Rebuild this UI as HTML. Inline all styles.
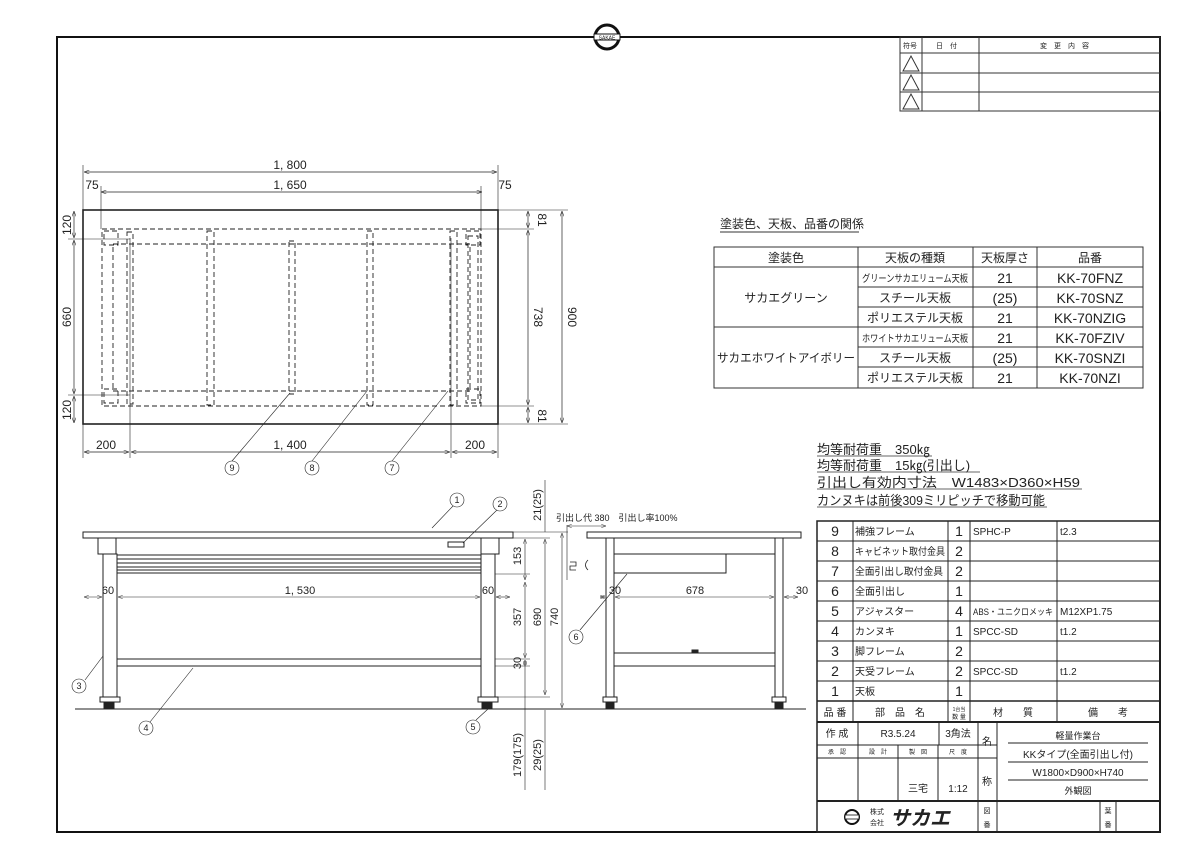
<!DOCTYPE html>
<html><head><meta charset="utf-8"><style>
html,body{margin:0;padding:0;background:#fff;width:1200px;height:849px;overflow:hidden}
svg{display:block}
text{font-family:"Liberation Sans","Noto Sans CJK JP",sans-serif;fill:#222}
</style></head><body>
<svg width="1200" height="849" viewBox="0 0 1200 849" xmlns="http://www.w3.org/2000/svg">
<defs><marker id="a" markerWidth="8" markerHeight="6" refX="8" refY="3" orient="auto-start-reverse"><path d="M0,0 L8,3 L0,6" fill="none" stroke="#333" stroke-width="0.8"/></marker></defs>
<rect x="57" y="37" width="1103" height="795" fill="none" stroke="#111" stroke-width="2"/>
<circle cx="607" cy="37" r="12" fill="#fff" stroke="#111" stroke-width="3"/>
<rect x="594" y="34" width="26" height="6" fill="#fff" stroke="#111" stroke-width="1"/>
<text x="607" y="39.5" font-size="5" text-anchor="middle">SAKAE</text>

<g stroke="#333" stroke-width="1" fill="none">
<rect x="900" y="37" width="260" height="74"/>
<line x1="900" y1="53" x2="1160" y2="53"/><line x1="900" y1="73" x2="1160" y2="73"/><line x1="900" y1="92" x2="1160" y2="92"/>
<line x1="922" y1="37" x2="922" y2="111"/><line x1="979" y1="37" x2="979" y2="111"/>
<path d="M903,71 L911,56 L919,71 Z M903,90 L911,75 L919,90 Z M903,109 L911,94 L919,109 Z"/>
</g>
<g font-size="7"><text x="903" y="48">符号</text><text x="936" y="48">日　付</text><text x="1040" y="48">変　更　内　容</text></g>

<g stroke="#222" fill="none">
<rect x="83" y="210" width="415" height="214" stroke-width="1.6"/>
<g stroke-dasharray="5,3" stroke-width="0.9">
<rect x="102" y="229" width="379" height="177"/>
<rect x="113" y="244" width="357" height="147"/>
<rect x="127" y="232" width="6" height="172"/>
<rect x="207" y="231" width="7" height="174"/>
<rect x="289" y="241" width="6" height="153"/>
<rect x="367" y="231" width="6" height="174"/>
<rect x="450" y="231" width="7" height="174"/>
<rect x="468" y="236" width="10" height="164"/>
<rect x="104" y="231" width="14" height="14"/><rect x="104" y="389" width="14" height="14"/>
<rect x="466" y="231" width="14" height="14"/><rect x="466" y="389" width="14" height="14"/>
</g>
<g stroke-width="0.7" marker-start="url(#a)" marker-end="url(#a)">
<line x1="84" y1="172" x2="497" y2="172"/>
<line x1="101" y1="192" x2="482" y2="192"/>
<line x1="84" y1="452" x2="129" y2="452"/>
<line x1="131" y1="452" x2="450" y2="452"/>
<line x1="452" y1="452" x2="497" y2="452"/>
<line x1="74" y1="211" x2="74" y2="238"/>
<line x1="74" y1="240" x2="74" y2="394"/>
<line x1="74" y1="396" x2="74" y2="423"/>
<line x1="528" y1="211" x2="528" y2="228"/>
<line x1="528" y1="230" x2="528" y2="405"/>
<line x1="528" y1="407" x2="528" y2="423"/>
<line x1="562" y1="211" x2="562" y2="423"/>
</g>
<g stroke-width="0.6">
<line x1="83" y1="165" x2="83" y2="210"/><line x1="498" y1="165" x2="498" y2="210"/>
<line x1="101" y1="186" x2="101" y2="229"/><line x1="481" y1="186" x2="481" y2="229"/>
<line x1="83" y1="424" x2="83" y2="458"/><line x1="498" y1="424" x2="498" y2="458"/>
<line x1="130" y1="238" x2="130" y2="458"/><line x1="451" y1="238" x2="451" y2="458"/>
<line x1="68" y1="239" x2="130" y2="239"/><line x1="68" y1="395" x2="130" y2="395"/>
<line x1="481" y1="229" x2="534" y2="229"/><line x1="481" y1="406" x2="534" y2="406"/>
<line x1="498" y1="210" x2="568" y2="210"/><line x1="498" y1="424" x2="568" y2="424"/>
<line x1="232" y1="461" x2="290" y2="393"/><line x1="312" y1="461" x2="367" y2="391"/><line x1="392" y1="461" x2="448" y2="391"/>
<circle cx="232" cy="468" r="7"/><circle cx="312" cy="468" r="7"/><circle cx="392" cy="468" r="7"/>
</g>
</g>
<g font-size="12">
<text x="290" y="169" text-anchor="middle">1, 800</text>
<text x="290" y="189" text-anchor="middle">1, 650</text>
<text x="92" y="189" text-anchor="middle">75</text><text x="505" y="189" text-anchor="middle">75</text>
<text x="106" y="449" text-anchor="middle">200</text><text x="290" y="449" text-anchor="middle">1, 400</text><text x="475" y="449" text-anchor="middle">200</text>
<text transform="translate(71,225) rotate(-90)" text-anchor="middle">120</text>
<text transform="translate(71,317) rotate(-90)" text-anchor="middle">660</text>
<text transform="translate(71,410) rotate(-90)" text-anchor="middle">120</text>
<text transform="translate(538,220) rotate(90)" text-anchor="middle">81</text>
<text transform="translate(534,317) rotate(90)" text-anchor="middle">738</text>
<text transform="translate(538,416) rotate(90)" text-anchor="middle">81</text>
<text transform="translate(568,317) rotate(90)" text-anchor="middle">900</text>
</g>
<g font-size="9" text-anchor="middle"><text x="232" y="471">9</text><text x="312" y="471">8</text><text x="392" y="471">7</text></g>

<g stroke="#222" fill="none" stroke-width="1">
<rect x="83" y="532" width="430" height="6"/>
<rect x="103" y="554" width="14" height="143"/><rect x="481" y="554" width="14" height="143"/>
<rect x="98" y="538" width="18" height="16"/><rect x="481" y="538" width="18" height="16"/>
<rect x="117" y="555" width="364" height="18"/>
<line x1="117" y1="559" x2="481" y2="559"/><line x1="117" y1="563" x2="481" y2="563"/><line x1="117" y1="567" x2="481" y2="567"/><line x1="117" y1="570" x2="481" y2="570"/>
<rect x="448" y="542" width="16" height="5"/>
<rect x="117" y="659" width="364" height="7"/>
<rect x="100" y="697" width="20" height="5"/><rect x="104" y="702" width="10" height="6" fill="#222"/>
<rect x="478" y="697" width="20" height="5"/><rect x="482" y="702" width="10" height="6" fill="#222"/>
<line x1="75" y1="709" x2="806" y2="709"/>
<rect x="587" y="532" width="214" height="6"/>
<rect x="606" y="538" width="8" height="159"/><rect x="775" y="538" width="8" height="159"/>
<line x1="614" y1="554" x2="775" y2="554"/>
<rect x="614" y="554" width="112" height="19"/>
<line x1="614" y1="653" x2="775" y2="653"/><line x1="614" y1="666" x2="775" y2="666"/>
<rect x="603" y="697" width="14" height="5"/><rect x="606" y="702" width="8" height="6" fill="#222"/>
<rect x="772" y="697" width="14" height="5"/><rect x="775" y="702" width="8" height="6" fill="#222"/>
<rect x="692" y="650" width="6" height="3" fill="#222"/>
<path d="M570,562 h6 v4 h-6 v4 h6 M588,560 q-5,5 0,10" stroke-width="0.8"/>
<line x1="567" y1="525" x2="567" y2="580" stroke-width="0.6"/>
</g>
<g stroke="#222" fill="none" stroke-width="0.6">
<g marker-start="url(#a)" marker-end="url(#a)">
<line x1="84" y1="597" x2="102" y2="597"/><line x1="118" y1="597" x2="480" y2="597"/><line x1="496" y1="597" x2="510" y2="597"/>
<line x1="600" y1="597" x2="605" y2="597"/><line x1="615" y1="597" x2="774" y2="597"/><line x1="784" y1="597" x2="798" y2="597"/>
<line x1="525" y1="539" x2="525" y2="580"/><line x1="525" y1="582" x2="525" y2="658"/><line x1="525" y1="660" x2="525" y2="666"/>
<line x1="545" y1="539" x2="545" y2="695"/><line x1="562" y1="533" x2="562" y2="708"/>
<line x1="567" y1="526" x2="606" y2="526"/>
</g>
<line x1="545" y1="480" x2="545" y2="532"/><line x1="545" y1="710" x2="545" y2="790"/>
<line x1="525" y1="666" x2="525" y2="790"/>
<line x1="513" y1="532" x2="568" y2="532"/><line x1="513" y1="538" x2="550" y2="538"/>
<line x1="495" y1="574" x2="530" y2="574"/><line x1="495" y1="659" x2="530" y2="659"/><line x1="495" y1="666" x2="530" y2="666"/><line x1="495" y1="697" x2="550" y2="697"/>
<line x1="432" y1="528" x2="453" y2="506"/><line x1="463" y1="543" x2="497" y2="510"/>
<line x1="85" y1="680" x2="103" y2="656"/><line x1="150" y1="722" x2="193" y2="668"/>
<line x1="476" y1="720" x2="488" y2="709"/><line x1="580" y1="630" x2="627" y2="574"/>
<circle cx="457" cy="500" r="7"/><circle cx="500" cy="504" r="7"/><circle cx="79" cy="686" r="7"/>
<circle cx="146" cy="728" r="7"/><circle cx="473" cy="727" r="7"/><circle cx="576" cy="637" r="7"/>
</g>
<g font-size="9" text-anchor="middle"><text x="457" y="503">1</text><text x="500" y="507">2</text><text x="79" y="689">3</text><text x="146" y="731">4</text><text x="473" y="730">5</text><text x="576" y="640">6</text></g>
<g font-size="11">
<text x="108" y="594" text-anchor="middle">60</text><text x="300" y="594" text-anchor="middle">1, 530</text><text x="488" y="594" text-anchor="middle">60</text>
<text x="615" y="594" text-anchor="middle">30</text><text x="695" y="594" text-anchor="middle">678</text><text x="802" y="594" text-anchor="middle">30</text>
<text x="556" y="521" font-size="9">引出し代 380　引出し率100%</text>
<text transform="translate(521,556) rotate(-90)" text-anchor="middle">153</text>
<text transform="translate(521,617) rotate(-90)" text-anchor="middle">357</text>
<text transform="translate(521,663) rotate(-90)" text-anchor="middle">30</text>
<text transform="translate(541,617) rotate(-90)" text-anchor="middle">690</text>
<text transform="translate(558,617) rotate(-90)" text-anchor="middle">740</text>
<text transform="translate(541,505) rotate(-90)" text-anchor="middle">21(25)</text>
<text transform="translate(521,755) rotate(-90)" text-anchor="middle">179(175)</text>
<text transform="translate(541,755) rotate(-90)" text-anchor="middle">29(25)</text>
</g>

<text x="720" y="228" font-size="12">塗装色、天板、品番の関係</text>
<line x1="720" y1="232" x2="859" y2="232" stroke="#333"/>
<g stroke="#333" fill="none" stroke-width="1">
<rect x="714" y="247" width="429" height="141"/>
<line x1="714" y1="267" x2="1143" y2="267"/><line x1="714" y1="327" x2="1143" y2="327"/>
<line x1="858" y1="287" x2="1143" y2="287"/><line x1="858" y1="307" x2="1143" y2="307"/>
<line x1="858" y1="347" x2="1143" y2="347"/><line x1="858" y1="367" x2="1143" y2="367"/>
<line x1="858" y1="247" x2="858" y2="388"/><line x1="973" y1="247" x2="973" y2="388"/><line x1="1037" y1="247" x2="1037" y2="388"/>
</g>
<g font-size="12" text-anchor="middle">
<text x="786" y="262">塗装色</text><text x="915" y="262">天板の種類</text><text x="1005" y="262">天板厚さ</text><text x="1090" y="262">品番</text>
<text x="786" y="302">サカエグリーン</text><text x="786" y="362" textLength="138" lengthAdjust="spacingAndGlyphs">サカエホワイトアイボリー</text>
<text x="915" y="282" font-size="10" textLength="106" lengthAdjust="spacingAndGlyphs">グリーンサカエリューム天板</text>
<text x="915" y="302">スチール天板</text><text x="915" y="322">ポリエステル天板</text>
<text x="915" y="342" font-size="10" textLength="106" lengthAdjust="spacingAndGlyphs">ホワイトサカエリューム天板</text>
<text x="915" y="362">スチール天板</text><text x="915" y="382">ポリエステル天板</text>
<g font-size="14"><text x="1005" y="283">21</text><text x="1005" y="303">(25)</text><text x="1005" y="323">21</text><text x="1005" y="343">21</text><text x="1005" y="363">(25)</text><text x="1005" y="383">21</text>
<text x="1090" y="283">KK-70FNZ</text><text x="1090" y="303">KK-70SNZ</text><text x="1090" y="323">KK-70NZIG</text><text x="1090" y="343">KK-70FZIV</text><text x="1090" y="363">KK-70SNZI</text><text x="1090" y="383">KK-70NZI</text></g>
</g>
<g font-size="13">
<text x="817" y="454">均等耐荷重　350㎏</text><text x="817" y="470">均等耐荷重　15㎏(引出し)</text>
<text x="817" y="487" textLength="263" lengthAdjust="spacingAndGlyphs">引出し有効内寸法　W1483×D360×H59</text><text x="817" y="505" textLength="228" lengthAdjust="spacingAndGlyphs">カンヌキは前後309ミリピッチで移動可能</text>
</g>
<g stroke="#333" stroke-width="0.8"><line x1="817" y1="456" x2="932" y2="456"/><line x1="817" y1="472" x2="980" y2="472"/><line x1="817" y1="489" x2="1082" y2="489"/><line x1="817" y1="507" x2="1047" y2="507"/></g>

<g stroke="#222" fill="none" stroke-width="1">
<rect x="817" y="521" width="343" height="311" stroke-width="1.5"/>
<line x1="817" y1="541" x2="1160" y2="541"/><line x1="817" y1="561" x2="1160" y2="561"/><line x1="817" y1="581" x2="1160" y2="581"/>
<line x1="817" y1="601" x2="1160" y2="601"/><line x1="817" y1="621" x2="1160" y2="621"/><line x1="817" y1="641" x2="1160" y2="641"/>
<line x1="817" y1="661" x2="1160" y2="661"/><line x1="817" y1="681" x2="1160" y2="681"/><line x1="817" y1="701" x2="1160" y2="701" stroke-width="1.5"/>
<line x1="817" y1="722" x2="1160" y2="722" stroke-width="2"/>
<line x1="853" y1="521" x2="853" y2="722"/><line x1="948" y1="521" x2="948" y2="722"/><line x1="970" y1="521" x2="970" y2="722"/><line x1="1057" y1="521" x2="1057" y2="722"/>
<line x1="817" y1="745" x2="997" y2="745"/><line x1="817" y1="758" x2="997" y2="758"/>
<line x1="858" y1="722" x2="858" y2="745"/><line x1="939" y1="722" x2="939" y2="745"/>
<line x1="858" y1="745" x2="858" y2="800"/><line x1="898" y1="745" x2="898" y2="800"/><line x1="938" y1="745" x2="938" y2="800"/>
<line x1="978" y1="722" x2="978" y2="832"/><line x1="997" y1="722" x2="997" y2="800"/>
<line x1="1008" y1="743" x2="1148" y2="743"/><line x1="1008" y1="762" x2="1148" y2="762"/><line x1="1008" y1="780" x2="1148" y2="780"/>
<line x1="817" y1="801" x2="1160" y2="801" stroke-width="2"/>
<line x1="997" y1="801" x2="997" y2="832"/><line x1="1100" y1="801" x2="1100" y2="832"/><line x1="1116" y1="801" x2="1116" y2="832"/>
</g>
<g font-size="14" text-anchor="middle"><text x="835" y="536">9</text><text x="835" y="556">8</text><text x="835" y="576">7</text><text x="835" y="596">6</text><text x="835" y="616">5</text><text x="835" y="636">4</text><text x="835" y="656">3</text><text x="835" y="676">2</text><text x="835" y="696">1</text>
<text x="959" y="536">1</text><text x="959" y="556">2</text><text x="959" y="576">2</text><text x="959" y="596">1</text><text x="959" y="616">4</text><text x="959" y="636">1</text><text x="959" y="656">2</text><text x="959" y="676">2</text><text x="959" y="696">1</text></g>
<g font-size="10"><text x="855" y="535">補強フレーム</text><text x="855" y="555" textLength="90" lengthAdjust="spacingAndGlyphs">キャビネット取付金具</text><text x="855" y="575" textLength="88" lengthAdjust="spacingAndGlyphs">全面引出し取付金具</text><text x="855" y="595">全面引出し</text><text x="855" y="615">アジャスター</text><text x="855" y="635">カンヌキ</text><text x="855" y="655">脚フレーム</text><text x="855" y="675">天受フレーム</text><text x="855" y="695">天板</text>
<text x="973" y="535">SPHC-P</text><text x="973" y="615" font-size="9" textLength="80" lengthAdjust="spacingAndGlyphs">ABS・ユニクロメッキ</text><text x="973" y="635">SPCC-SD</text><text x="973" y="675">SPCC-SD</text>
<text x="1060" y="535">t2.3</text><text x="1060" y="615">M12XP1.75</text><text x="1060" y="635">t1.2</text><text x="1060" y="675">t1.2</text>
<text x="835" y="716" text-anchor="middle">品 番</text><text x="900" y="716" text-anchor="middle">部　品　名</text><text x="959" y="711" font-size="5" text-anchor="middle">1台当</text><text x="959" y="719" font-size="6" text-anchor="middle">数 量</text><text x="1013" y="716" text-anchor="middle">材　　質</text><text x="1108" y="716" text-anchor="middle">備　　考</text>
<text x="837" y="737" text-anchor="middle">作 成</text><text x="898" y="737" text-anchor="middle">R3.5.24</text><text x="958" y="737" text-anchor="middle">3角法</text>
<text x="987" y="745" text-anchor="middle">名</text><text x="987" y="785" text-anchor="middle">称</text>
<text x="837" y="754" font-size="6" text-anchor="middle">承　認</text><text x="878" y="754" font-size="6" text-anchor="middle">設　計</text><text x="918" y="754" font-size="6" text-anchor="middle">製　図</text><text x="958" y="754" font-size="6" text-anchor="middle">尺　度</text>
<text x="918" y="792" text-anchor="middle">三宅</text><text x="958" y="792" text-anchor="middle">1:12</text>
<text x="1078" y="739" font-size="9" text-anchor="middle">軽量作業台</text><text x="1078" y="758" text-anchor="middle">KKタイプ(全面引出し付)</text><text x="1078" y="776" text-anchor="middle">W1800×D900×H740</text><text x="1078" y="794" font-size="9" text-anchor="middle">外観図</text>
<text x="987" y="813" font-size="7" text-anchor="middle">図</text><text x="987" y="827" font-size="7" text-anchor="middle">番</text><text x="1108" y="813" font-size="7" text-anchor="middle">葉</text><text x="1108" y="827" font-size="7" text-anchor="middle">番</text>
<text x="870" y="814" font-size="7">株式</text><text x="870" y="825" font-size="7">会社</text>
<text x="890" y="825" font-size="20" font-weight="bold" font-style="italic">サカエ</text></g>
<circle cx="852" cy="817" r="7" fill="none" stroke="#111" stroke-width="2"/><rect x="845" y="815" width="14" height="4" fill="#fff" stroke="#111" stroke-width="0.8"/>
</svg>
</body></html>
